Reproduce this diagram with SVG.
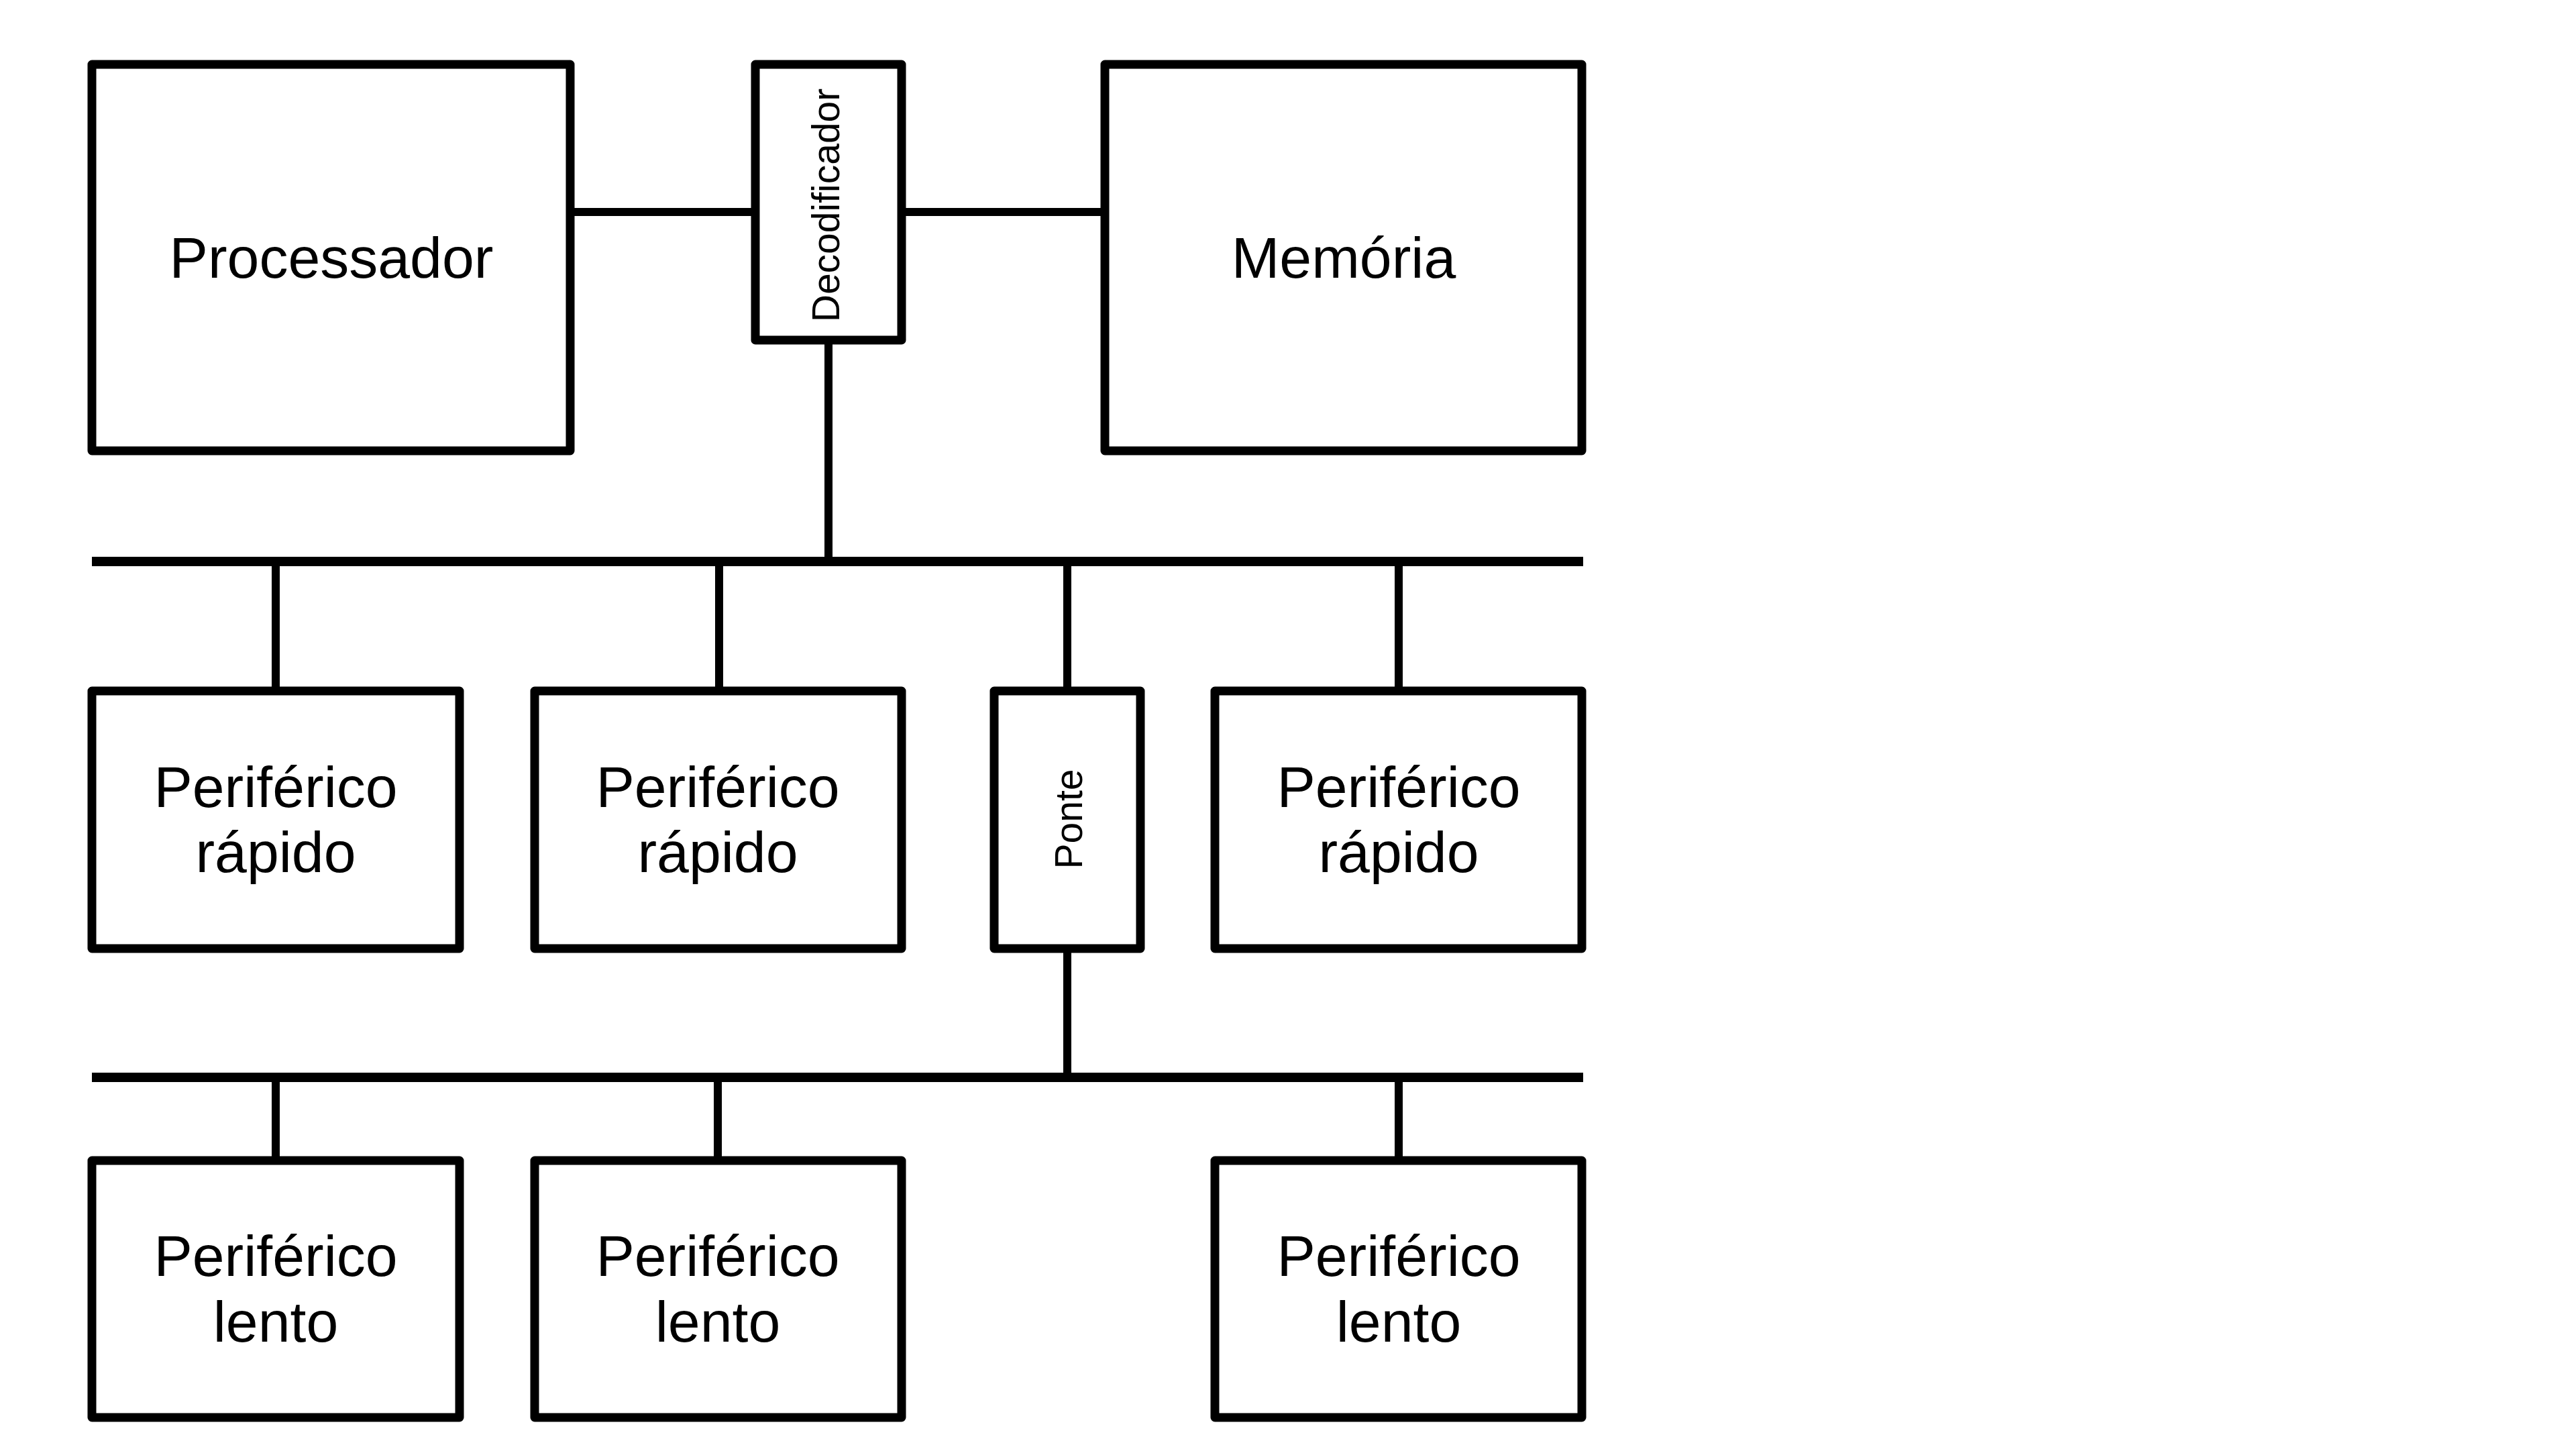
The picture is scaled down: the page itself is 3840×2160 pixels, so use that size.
<svg xmlns="http://www.w3.org/2000/svg" width="3840" height="2160" viewBox="0 0 3840 2160">
<style>
.box{fill:#fff;stroke:#000;stroke-width:13;stroke-linejoin:round}
.wire{stroke:#000;stroke-width:12;fill:none}
.bus{stroke:#000;stroke-width:14;fill:none}
.lbl{font-family:"Liberation Sans",Arial,sans-serif;font-size:86px;fill:#000;text-anchor:middle}
.vlbl{font-family:"Liberation Sans",Arial,sans-serif;font-size:57px;fill:#000;text-anchor:middle}
</style>
<rect width="3840" height="2160" fill="#fff"/>
<g id="connectors">
<line class="wire" x1="850" y1="316" x2="1126" y2="316"/>
<line class="wire" x1="1344" y1="316" x2="1647" y2="316"/>
<line class="wire" x1="1235" y1="507" x2="1235" y2="837"/>
<line class="bus" x1="137" y1="837" x2="2360" y2="837"/>
<line class="wire" x1="411" y1="837" x2="411" y2="1030"/>
<line class="wire" x1="1072" y1="837" x2="1072" y2="1030"/>
<line class="wire" x1="1591" y1="837" x2="1591" y2="1030"/>
<line class="wire" x1="2085" y1="837" x2="2085" y2="1030"/>
<line class="wire" x1="1591" y1="1414" x2="1591" y2="1606"/>
<line class="bus" x1="137" y1="1606" x2="2360" y2="1606"/>
<line class="wire" x1="411" y1="1606" x2="411" y2="1730"/>
<line class="wire" x1="1070" y1="1606" x2="1070" y2="1730"/>
<line class="wire" x1="2085" y1="1606" x2="2085" y2="1730"/>
</g>
<g id="processador">
<rect class="box" x="137" y="96" width="713" height="576"/>
<text class="lbl" x="494" y="414">Processador</text>
</g>
<g id="decodificador">
<rect class="box" x="1126" y="96" width="218" height="411"/>
<text class="vlbl" transform="translate(1251,306) rotate(-90)">Decodificador</text>
</g>
<g id="memoria">
<rect class="box" x="1647" y="96" width="711" height="576"/>
<text class="lbl" x="2003" y="414">Memória</text>
</g>
<g id="rapido1">
<rect class="box" x="137" y="1030" width="548" height="384"/>
<text class="lbl" x="411" y="1203">Periférico</text>
<text class="lbl" x="411" y="1300">rápido</text>
</g>
<g id="rapido2">
<rect class="box" x="797" y="1030" width="547" height="384"/>
<text class="lbl" x="1070" y="1203">Periférico</text>
<text class="lbl" x="1070" y="1300">rápido</text>
</g>
<g id="ponte">
<rect class="box" x="1482" y="1030" width="218" height="384"/>
<text class="vlbl" transform="translate(1613,1221) rotate(-90)">Ponte</text>
</g>
<g id="rapido3">
<rect class="box" x="1811" y="1030" width="547" height="384"/>
<text class="lbl" x="2085" y="1203">Periférico</text>
<text class="lbl" x="2085" y="1300">rápido</text>
</g>
<g id="lento1">
<rect class="box" x="137" y="1730" width="548" height="383"/>
<text class="lbl" x="411" y="1902">Periférico</text>
<text class="lbl" x="411" y="2000">lento</text>
</g>
<g id="lento2">
<rect class="box" x="797" y="1730" width="547" height="383"/>
<text class="lbl" x="1070" y="1902">Periférico</text>
<text class="lbl" x="1070" y="2000">lento</text>
</g>
<g id="lento3">
<rect class="box" x="1811" y="1730" width="547" height="383"/>
<text class="lbl" x="2085" y="1902">Periférico</text>
<text class="lbl" x="2085" y="2000">lento</text>
</g>
</svg>
